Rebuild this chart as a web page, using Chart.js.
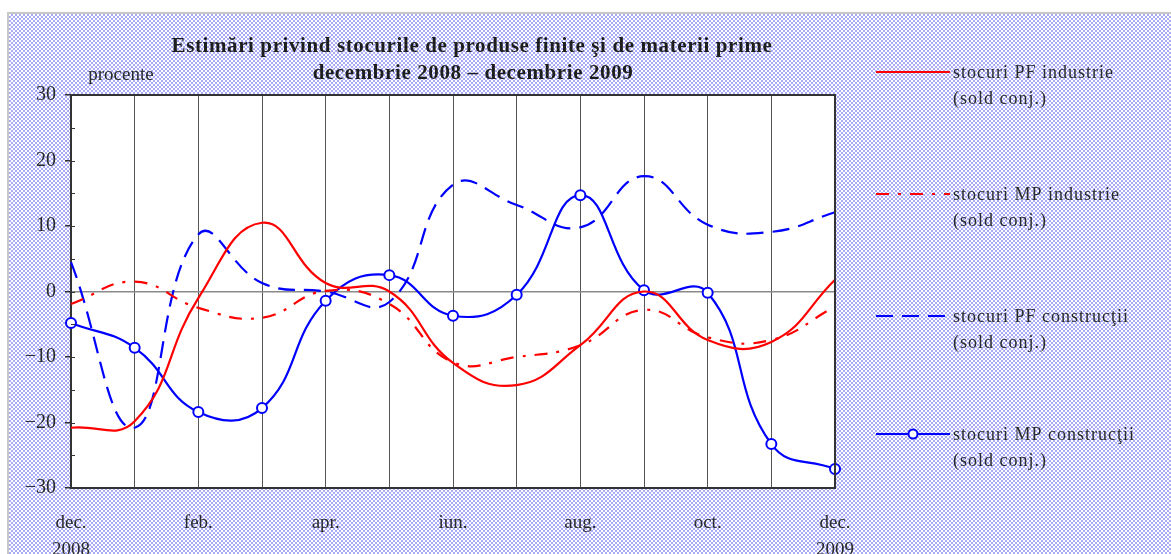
<!DOCTYPE html>
<html lang="ro">
<head>
<meta charset="utf-8">
<title>Estimări privind stocurile</title>
<script src="https://cdn.jsdelivr.net/npm/chart.js@4.4.1/dist/chart.umd.min.js"></script>
<style>
  html, body { margin: 0; padding: 0; background: #fff; }
  .frame {
    position: absolute; left: 7px; top: 12px; width: 1170px; height: 550px;
    border-left: 2px solid #c8c8c8; border-top: 2px solid #c8c8c8;
    background-image: repeating-conic-gradient(#a9acf4 0 25%, #ffffff 0 50%);
    background-size: 4px 4px;
  }
  canvas { position: absolute; left: 0; top: 0; }
</style>
</head>
<body>
<div class="frame"></div>
<canvas id="stocChart" width="1171" height="554"></canvas>
<script>
// months dec 2008 .. dec 2009
const months = ['dec08', 'ian', 'feb', 'mar', 'apr', 'mai', 'iun', 'iul', 'aug', 'sep', 'oct', 'nov', 'dec09'];
const xTickLabels = [['dec.', '2008'], '', 'feb.', '', 'apr.', '', 'iun.', '', 'aug.', '', 'oct.', '', ['dec.', '2009']];

// values (sold conjunctural, procente)
const pfIndustrie   = [-20.8, -19.8, -1.0, 10.5, 1.3, 0.0, -10.9, -14.3, -8.2, 0.0, -7.4, -7.7, 1.8];
const mpIndustrie   = [-1.9, 1.5, -2.5, -4.0, 0.1, -1.9, -10.8, -10.0, -8.2, -2.8, -7.0, -7.4, -2.3];
const pfConstructii = [4.5, -20.8, 8.7, 1.3, 0.0, -1.6, 16.3, 13.2, 9.8, 17.6, 10.2, 9.1, 12.1];
const mpConstructii = [-4.8, -8.6, -18.4, -17.8, -1.4, 2.5, -3.7, -0.5, 14.7, 0.2, -0.2, -23.3, -27.1];

const seriesNames = [
  ['stocuri PF industrie', '(sold conj.)'],
  ['stocuri MP industrie', '(sold conj.)'],
  ['stocuri PF construcţii', '(sold conj.)'],
  ['stocuri MP construcţii', '(sold conj.)']
];

const FONT = 'Liberation Serif';
const TEXT = '#2a2a2a';

// white plot area + frame, extra labels, custom legend
const decorPlugin = {
  id: 'decor',
  beforeDraw(chart) {
    const { ctx, chartArea: a } = chart;
    ctx.save();
    ctx.fillStyle = '#fff';
    ctx.fillRect(a.left, a.top, a.right - a.left, a.bottom - a.top);
    ctx.restore();
  },
  afterDraw(chart) {
    const { ctx, chartArea: a } = chart;
    const yScale = chart.scales.y;
    ctx.save();

    // frame on top and right
    ctx.strokeStyle = '#333';
    ctx.lineWidth = 2;
    ctx.beginPath();
    ctx.moveTo(a.left, a.top);
    ctx.lineTo(a.right, a.top);
    ctx.lineTo(a.right, a.bottom);
    ctx.stroke();

    // small inner ticks on the y axis
    ctx.lineWidth = 1;
    for (let v = -25; v <= 25; v += 5) {
      const y = Math.round(yScale.getPixelForValue(v)) + 0.5;
      ctx.beginPath();
      ctx.moveTo(a.left, y);
      ctx.lineTo(a.left + 4, y);
      ctx.stroke();
    }

    const spacing = px => { if ('letterSpacing' in ctx) ctx.letterSpacing = px; };

    // title
    ctx.fillStyle = '#1e1e1e';
    ctx.textAlign = 'center';
    ctx.textBaseline = 'middle';
    ctx.font = 'bold 21px "' + FONT + '"';
    spacing('0.6px');
    ctx.fillText('Estimări privind stocurile de produse finite şi de materii prime', 472, 47);
    ctx.fillText('decembrie 2008 – decembrie 2009', 473, 74);

    ctx.fillStyle = TEXT;
    ctx.font = '19px "' + FONT + '"';
    spacing('0px');
    ctx.fillText('procente', 121, 75);

    // legend
    const itemY = [72, 194, 316, 434];
    ctx.textAlign = 'left';
    ctx.font = '18px "' + FONT + '"';
    spacing('1px');
    chart.data.datasets.forEach((ds, i) => {
      const y = itemY[i];
      ctx.save();
      ctx.strokeStyle = ds.borderColor;
      ctx.lineWidth = 2;
      ctx.setLineDash(ds.borderDash || []);
      ctx.beginPath();
      ctx.moveTo(876, y);
      ctx.lineTo(950, y);
      ctx.stroke();
      ctx.setLineDash([]);
      if (ds.pointRadius > 0) {
        ctx.beginPath();
        ctx.arc(913, y, 4.5, 0, Math.PI * 2);
        ctx.fillStyle = '#fff';
        ctx.fill();
        ctx.stroke();
      }
      ctx.restore();
      ctx.fillStyle = TEXT;
      ctx.fillText(seriesNames[i][0], 953, y + 1);
      ctx.fillText(seriesNames[i][1], 953, y + 27);
    });
    ctx.restore();
  }
};

const lineBase = { fill: false, borderWidth: 2.2, tension: 0.45, pointRadius: 0, pointHoverRadius: 0 };

new Chart(document.getElementById('stocChart'), {
  type: 'line',
  data: {
    labels: months,
    datasets: [
      Object.assign({}, lineBase, { label: seriesNames[0].join(' '), data: pfIndustrie, borderColor: '#ff0000' }),
      Object.assign({}, lineBase, { label: seriesNames[1].join(' '), data: mpIndustrie, borderColor: '#ff0000', borderDash: [13, 9, 3, 9] }),
      Object.assign({}, lineBase, { label: seriesNames[2].join(' '), data: pfConstructii, borderColor: '#0000ff', borderDash: [17, 9] }),
      Object.assign({}, lineBase, {
        label: seriesNames[3].join(' '), data: mpConstructii, borderColor: '#0000ff',
        pointRadius: 5, pointBackgroundColor: '#fff', pointBorderColor: '#0000ff', pointBorderWidth: 2
      })
    ]
  },
  options: {
    responsive: false,
    animation: false,
    layout: { padding: { left: 0, top: 95, right: 336, bottom: 0 } },
    plugins: {
      legend: { display: false },
      title: { display: false },
      tooltip: { enabled: false }
    },
    scales: {
      x: {
        grid: { color: '#555', lineWidth: 1, drawTicks: false, offset: false },
        border: { display: true, color: '#333', width: 2 },
        ticks: {
          autoSkip: false, maxRotation: 0, padding: 22,
          font: { family: FONT, size: 19, lineHeight: 1.4 }, color: TEXT,
          callback: (v, i) => xTickLabels[i]
        },
        afterFit: s => { s.height = 66; }
      },
      y: {
        min: -30, max: 30,
        grid: {
          color: c => (c.tick && c.tick.value === 0 ? '#8a8a8a' : 'transparent'),
          tickColor: c => (c.tick && c.tick.value % 10 === 0 ? '#333' : 'transparent'),
          tickLength: 6,
          lineWidth: 1.5
        },
        border: { display: true, color: '#333', width: 2 },
        ticks: {
          stepSize: 5, padding: 9,
          font: { family: FONT, size: 20 }, color: TEXT,
          callback: v => (v % 10 === 0 ? String(v).replace('-', '\u2212') : '')
        },
        afterFit: s => { s.width = 71; }
      }
    }
  },
  plugins: [decorPlugin]
});
</script>
</body>
</html>
